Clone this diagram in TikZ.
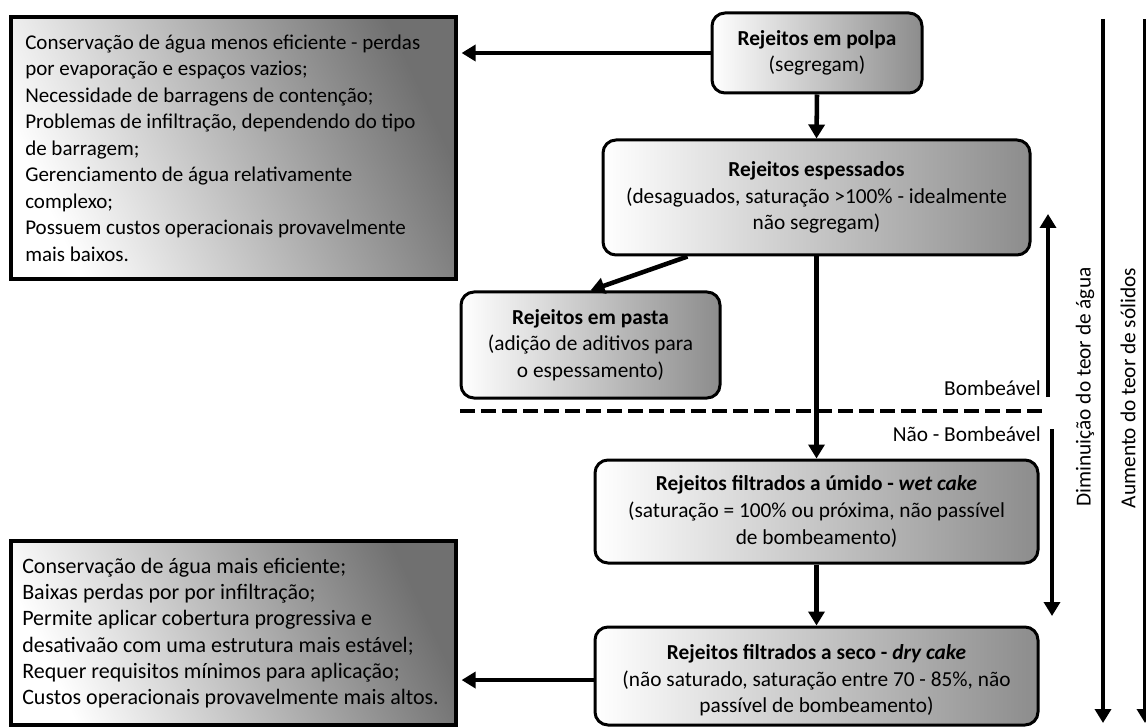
\documentclass[tikz,border=0pt]{standalone}
\usepackage{fontspec}
\setmainfont{Carlito}
\usetikzlibrary{arrows.meta,calc}

\newcommand\boxfont{\fontsize{16pt}{19.9pt}\selectfont}
\newcommand\topsidefont{\fontsize{15.75pt}{19.9pt}\selectfont}
\newcommand\lowsidefont{\fontsize{16.5pt}{19.75pt}\selectfont}

\tikzset{
  flowbox/.style={draw=black, line width=2.25pt, rounded corners=9.75pt,
    left color=white, right color=black!45, align=center, inner sep=0pt,
    font=\boxfont},
  sidebox/.style={draw=black, line width=2.4pt, left color=white,
    right color=black!56, shading angle=115, inner sep=0pt,
    minimum width=333.75pt},
  sidelist/.style={align=left, inner sep=0pt, anchor=west},
  arr/.style={line width=3.4pt, -{Triangle[width=12pt,length=10.5pt]}},
  sidetxt/.style={font=\boxfont, inner sep=0pt},
  axistxt/.style={font=\boxfont, inner sep=0pt, rotate=90},
  divider/.style={line width=3.4pt, dash pattern=on 11.25pt off 4.5pt}
}

\begin{document}
\begin{tikzpicture}[x=0.75pt, y=-0.75pt]
  \fill[white] (0,0) rectangle (1146,727);
  \useasboundingbox (0,0) rectangle (1146,727);

  % side boxes with drawbacks / advantages
  \node[sidebox, minimum height=196.5pt] (desv) at (233.5,148) {};
  \node[sidelist, font=\topsidefont] (desvtxt) at (25,148) {%
    Conservação de água menos eficiente - perdas\\
    por evaporação e espaços vazios;\\
    Necessidade de barragens de contenção;\\
    Problemas de infiltração, dependendo do tipo\\
    de barragem;\\
    Gerenciamento de água relativamente\\
    complexo;\\
    Possuem custos operacionais provavelmente\\
    mais baixos.};
  \node[sidebox, minimum height=138pt] (vant) at (233.5,633) {};
  \node[sidelist, font=\lowsidefont] (vanttxt) at (22,633) {%
    Conservação de água mais eficiente;\\
    Baixas perdas por por infiltração;\\
    Permite aplicar cobertura progressiva e\\
    desativaão com uma estrutura mais estável;\\
    Requer requisitos mínimos para aplicação;\\
    Custos operacionais provavelmente mais altos.};

  % tailings types
  \node[flowbox, minimum width=157.5pt, minimum height=60pt] (polpa) at (817,53)
    {\textbf{Rejeitos em polpa}\\(segregam)};
  \node[flowbox, minimum width=320.25pt, minimum height=86.25pt] (esp) at (816.5,197.5)
    {\textbf{Rejeitos espessados}\\(desaguados, saturação >100\% - idealmente\\não segregam)};
  \node[flowbox, minimum width=194.25pt, minimum height=79.5pt] (pasta) at (590.5,345)
    {\textbf{Rejeitos em pasta}\\(adição de aditivos para\\o espessamento)};
  \node[flowbox, minimum width=332.25pt, minimum height=77.25pt] (wet) at (816.5,511.5)
    {\textbf{Rejeitos filtrados a úmido - \textit{wet cake}}\\(saturação = 100\% ou próxima, não passível\\de bombeamento)};
  \node[flowbox, minimum width=332.25pt, minimum height=73.5pt] (dry) at (816.5,676)
    {\rule{0pt}{18pt}\textbf{Rejeitos filtrados a seco - \textit{dry cake}}\\(não saturado, saturação entre 70 - 85\%, não\\passível de bombeamento)};

  % flow connectors
  \draw[arr] (polpa.west) -- ($(polpa.west -| desv.east)+(4,0)$);
  \draw[arr] (polpa.south) -- (esp.north);
  \draw[arr] ($(esp.south west)!0.2!(esp.south east)$) -- (pasta.north);
  \draw[arr] (esp.south) -- (wet.north);
  \draw[arr] (wet.south) -- (dry.north);
  \coordinate (dryout) at ($(dry.north west)!0.54!(dry.south west)$);
  \draw[arr] (dryout) -- ($(dryout -| vant.east)+(4,0)$);

  % pumpable / non-pumpable limit
  \coordinate (limL) at (460,411);
  \coordinate (limR) at (1046,411);
  \draw[divider] (limL) -- (limR);
  \node[sidetxt, anchor=base east] (bomb) at (1041,395) {Bombeável};
  \node[sidetxt, anchor=base east] (nbomb) at (1041,441) {Não - Bombeável};

  \coordinate (upS) at (1048,397);
  \coordinate (upE) at (1048,214);
  \draw[arr] (upS) -- (upE);
  \coordinate (dnS) at (1052,429);
  \coordinate (dnE) at (1052,616);
  \draw[arr] (dnS) -- (dnE);

  % trend axes
  \coordinate (aguaS) at (1103,19);
  \coordinate (aguaE) at (1103,723);
  \draw[arr] (aguaS) -- (aguaE);
  \coordinate (solS) at (1145,19);
  \coordinate (solE) at (1145,723);
  \draw[arr] (solS) -- (solE);
  \node[axistxt] (agua) at (1085,387) {Diminuição do teor de água};
  \node[axistxt] (sol) at (1128,388) {Aumento do teor de sólidos};
\end{tikzpicture}
\end{document}
